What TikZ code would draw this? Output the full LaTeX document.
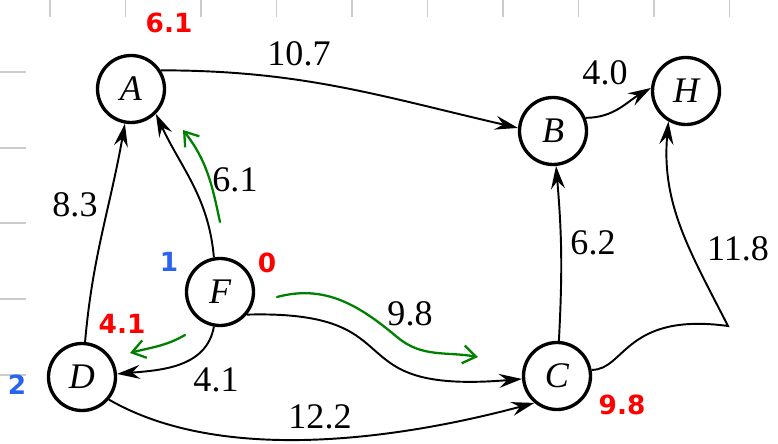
\documentclass[tikz,border=0pt]{standalone}
\usepackage{fontspec}
\setmainfont{Liberation Serif}
\newfontfamily\handfont{DejaVu Sans}
\usetikzlibrary{arrows.meta}
\definecolor{handred}{RGB}{255,0,0}
\definecolor{handblue}{RGB}{40,100,240}
\definecolor{handgreen}{RGB}{0,128,0}

\begin{document}
\begin{tikzpicture}[
    % Graph styles
    vertex/.style={circle, draw=black, line width=1.9pt, minimum size=13.4mm, inner sep=0pt, font=\fontsize{20.5}{24}\selectfont\itshape},
    road/.style={line width=1.1pt, -{Stealth[length=4.6mm, width=2.8mm, inset=1.6mm]}},
    weight/.style={font=\fontsize{20.5}{24}\selectfont, inner sep=1pt},
    % Handwritten notes
    dist/.style={font=\handfont\bfseries\fontsize{15}{18}\selectfont, text=handred, inner sep=1pt},
    order/.style={font=\handfont\bfseries\fontsize{15}{18}\selectfont, text=handblue, inner sep=1pt},
    trace/.style={draw=handgreen, line width=1.3pt, line cap=round, line join=round, -{Straight Barb[length=2.6mm, width=3.6mm]}},
    ruling/.style={draw=gray!40, line width=0.8pt}
]

% Page and ruled paper marks
\useasboundingbox (0,0) rectangle (15.56,8.86);
\foreach \i in {0,...,9}
    \draw[ruling] (1.0+1.51*\i, 8.86) -- ++(0,-0.34);
\foreach \y in {7.42, 5.90, 4.40, 2.88, 1.36}
    \draw[ruling] (0, \y) -- (0.52, \y);

% Vertices
\node[vertex] (A) at (2.62, 7.08) {A};
\node[vertex] (B) at (11.06, 6.24) {B};
\node[vertex] (H) at (13.72, 7.04) {H};
\node[vertex] (F) at (4.40, 3.02) {F};
\node[vertex] (D) at (1.64, 1.32) {D};
\node[vertex] (C) at (11.14, 1.34) {C};

% Weighted roads
\draw[road] (A.32) to[out=0, in=167] (B.175);
\draw[road] (B.22) to[out=0, in=210] (H.175);
\draw[road] (C) to[bend right=4] (B);
\coordinate (kink) at (14.56, 2.34);
\draw[road] (C.10) .. controls (12.50, 1.46) and (12.50, 2.62) .. (kink) to[out=117, in=-95] (H.240);
\draw[road] (F.100) to[out=95, in=-65] (A.-45);
\draw[road] (D) to[out=85, in=-100] (A);
\draw[road] (F) to[out=-100, in=5] (D);
\draw[road] (F.-40) .. controls (8.40, 2.66) and (6.60, 0.96) .. (C);
\draw[road, looseness=0.8] (D.-40) to[out=-30, in=195] (C.230);

% Weights
\node[weight] (wAB) at (5.98, 7.79) {10.7};
\node[weight] (wBH) at (12.10, 7.41) {4.0};
\node[weight] (wCB) at (11.86, 4.00) {6.2};
\node[weight] (wCH) at (14.76, 3.88) {11.8};
\node[weight] (wFA) at (4.70, 5.26) {6.1};
\node[weight] (wDA) at (1.50, 4.76) {8.3};
\node[weight] (wFD) at (4.32, 1.26) {4.1};
\node[weight] (wFC) at (8.20, 2.58) {9.8};
\node[weight] (wDC) at (6.40, 0.52) {12.2};

% Distances (red) and visit order (blue)
\node[dist] (dA) at (3.38, 8.40) {6.1};
\node[dist] (dF) at (5.34, 3.60) {0};
\node[dist] (dD) at (2.44, 2.38) {4.1};
\node[dist] (dC) at (12.44, 0.76) {9.8};
\node[order] (oF) at (3.38, 3.62) {1};
\node[order] (oD) at (0.34, 1.16) {2};

% Relaxation traces
\coordinate (g1s) at (4.40, 4.42);
\coordinate (g1e) at (3.66, 6.26);
\draw[trace] (g1s) to[out=102, in=-52] (g1e);
\coordinate (g2s) at (3.70, 2.16);
\coordinate (g2e) at (2.60, 1.80);
\draw[trace] (g2s) to[out=210, in=15] (g2e);
\coordinate (g3s) at (5.54, 2.92);
\coordinate (g3m) at (7.94, 2.12);
\coordinate (g3e) at (9.56, 1.72);
\draw[trace] (g3s) to[out=15, in=140] (g3m) to[out=-40, in=170] (g3e);

\end{tikzpicture}
\end{document}
